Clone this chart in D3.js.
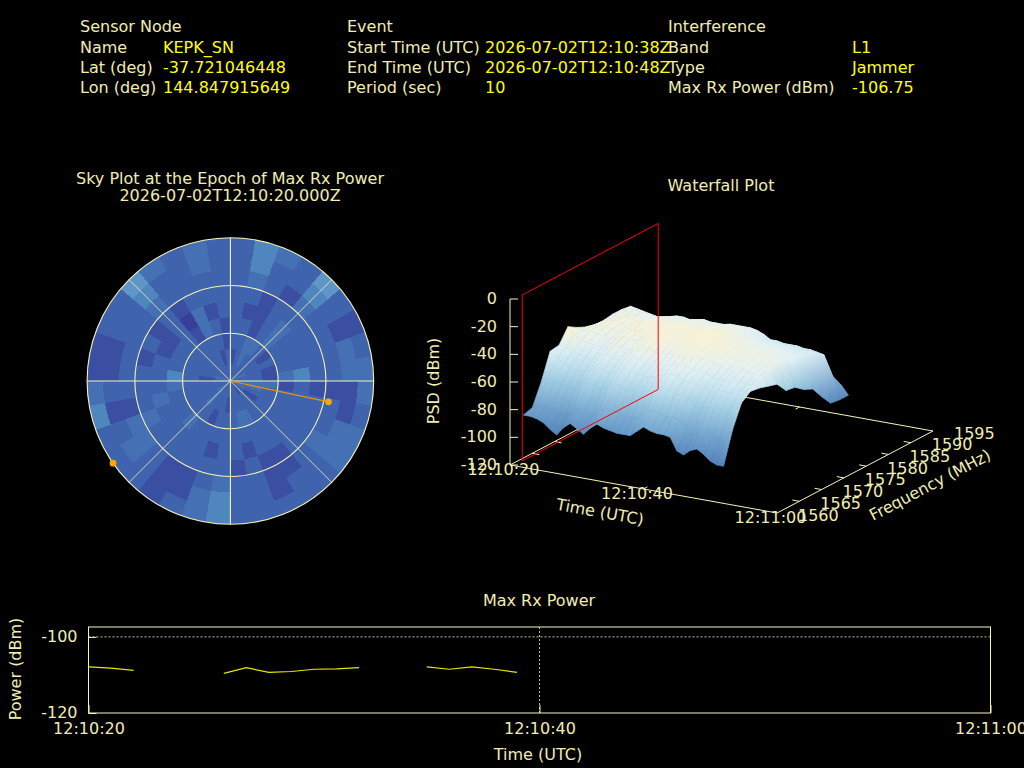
<!DOCTYPE html>
<html>
<head>
<meta charset="utf-8">
<script src="https://d3js.org/d3.v7.min.js"></script>
<style>
  html, body { margin: 0; padding: 0; background: #000; overflow: hidden; }
  text { font-family: "DejaVu Sans", sans-serif; font-size: 16px; fill: #efedb2; }
  text.val { fill: #ffff00; }
</style>
</head>
<body>
<svg id="chart" width="1024" height="768"></svg>
<script>
// header table
const sensorLabels = ['Sensor Node', 'Name', 'Lat (deg)', 'Lon (deg)'];
const sensorValues = ['', 'KEPK_SN', '-37.721046448', '144.847915649'];
const eventLabels = ['Event', 'Start Time (UTC)', 'End Time (UTC)', 'Period (sec)'];
const eventValues = ['', '2026-07-02T12:10:38Z', '2026-07-02T12:10:48Z', '10'];
const interfLabels = ['Interference', 'Band', 'Type', 'Max Rx Power (dBm)'];
const interfValues = ['', 'L1', 'Jammer', '-106.75'];

// sky plot levels, one list per elevation ring (center outwards), 36 azimuth bins of 10 deg
const skyRing0 = [2,2,2,2,2,2,3,2,2,2,2,3,2,2,1,2,2,2,2,2,2,2,3,3,2,2,2,2,3,2,2,2,2,2,2,2];
const skyRing1 = [1,2,3,2,2,2,2,2,2,3,3,2,1,2,2,2,2,2,1,2,2,2,3,2,2,2,2,1,2,2,2,2,2,2,1,2];
const skyRing2 = [2,2,3,3,2,1,2,1,1,3,2,2,2,2,2,3,3,2,2,2,1,2,2,2,2,2,2,2,2,2,2,2,2,2,2,1];
const skyRing3 = [2,2,1,2,3,2,2,2,3,1,2,2,2,2,2,2,2,2,2,2,2,2,3,2,2,2,3,4,2,2,2,2,1,3,2,1];
const skyRing4 = [2,1,1,2,3,2,2,2,4,2,2,2,2,2,2,2,1,2,2,1,2,2,2,2,2,3,2,2,2,1,1,2,0,3,1,2];
const skyRing5 = [2,2,1,2,2,2,2,2,2,1,2,2,2,2,1,1,2,1,2,2,2,2,2,2,3,2,2,2,1,2,1,2,1,2,2,2];
const skyRing6 = [2,3,2,1,3,2,2,2,2,1,2,2,3,2,1,1,2,2,3,2,1,1,2,3,3,1,2,2,2,2,2,3,2,2,2,2];
const skyRing7 = [2,4,2,2,4,2,1,3,3,1,1,3,3,2,2,1,2,2,4,3,1,1,2,3,2,1,2,1,1,2,2,4,2,2,3,2];
const skyRing8 = [2,4,3,2,5,2,1,2,3,3,2,3,3,2,2,2,2,2,4,3,2,1,2,2,2,4,3,1,1,2,2,5,3,2,3,2];
const skyRings = [skyRing0, skyRing1, skyRing2, skyRing3, skyRing4, skyRing5, skyRing6, skyRing7, skyRing8];
const skyLevelColors = ['#383f98', '#3a4ea2', '#3f63ac', '#4570b3', '#4f86be', '#5f96c8'];

// satellites seen at the epoch: azimuth, elevation
const satAz = [102, 235];
const satEl = [27, 0];

// waterfall: PSD in dBm, one list per frequency, one value per second from 12:10:20
const wfFreqs = [1563, 1565, 1567, 1569, 1571, 1573, 1575, 1577, 1579, 1581, 1583, 1585, 1587, 1589, 1591];
const psd1563 = [-89,-89,-90,-92,-96,-99,-93,-89,-92,-95,-90,-86,-88,-89,-90,-90,-90,-86,-82,-84,-85,-85,-86,-95,-97,-93,-91,-94,-98,-100,-100];
const psd1565 = [-87,-84,-85,-86,-88,-90,-85,-81,-83,-86,-81,-77,-79,-80,-82,-81,-80,-76,-73,-75,-76,-76,-77,-84,-87,-83,-82,-84,-87,-85,-77];
const psd1567 = [-72,-68,-69,-70,-72,-73,-69,-66,-68,-70,-66,-63,-65,-66,-67,-66,-65,-62,-60,-61,-63,-63,-64,-69,-70,-68,-67,-68,-70,-68,-61];
const psd1569 = [-53,-57,-60,-62,-63,-64,-61,-58,-60,-61,-58,-56,-57,-58,-59,-58,-57,-55,-54,-55,-56,-56,-57,-60,-61,-60,-59,-60,-61,-59,-56];
const psd1571 = [-52,-53,-55,-56,-57,-58,-55,-53,-54,-55,-53,-51,-52,-53,-53,-53,-52,-51,-50,-51,-52,-52,-53,-55,-56,-55,-54,-55,-56,-55,-57];
const psd1573 = [-42,-47,-50,-51,-52,-53,-51,-49,-50,-51,-49,-47,-48,-49,-49,-49,-48,-47,-46,-47,-48,-48,-49,-51,-52,-51,-50,-51,-52,-51,-59];
const psd1575 = [-46,-47,-47,-48,-49,-50,-48,-46,-47,-48,-46,-44,-45,-46,-46,-46,-45,-44,-44,-45,-46,-46,-47,-48,-49,-48,-48,-49,-50,-50,-61];
const psd1577 = [-49,-47,-46,-46,-47,-48,-46,-45,-45,-46,-45,-43,-44,-45,-45,-44,-44,-43,-43,-44,-45,-45,-46,-47,-48,-47,-47,-48,-49,-50,-69];
const psd1579 = [-51,-48,-46,-45,-46,-47,-45,-44,-44,-45,-44,-43,-44,-44,-44,-44,-43,-43,-43,-44,-45,-46,-47,-48,-48,-48,-48,-49,-50,-52,-70];
const psd1581 = [-51,-49,-47,-46,-46,-47,-46,-45,-45,-46,-45,-44,-45,-45,-45,-45,-44,-44,-45,-46,-47,-48,-49,-50,-50,-50,-50,-51,-52,-53,-75];
const psd1583 = [-50,-49,-48,-48,-48,-49,-48,-47,-47,-48,-47,-46,-47,-47,-47,-47,-46,-46,-47,-48,-49,-50,-51,-52,-52,-52,-53,-53,-54,-54,-78];
const psd1585 = [-50,-49,-49,-50,-50,-51,-50,-49,-49,-50,-49,-48,-49,-49,-49,-49,-48,-48,-49,-50,-52,-53,-54,-55,-55,-55,-56,-56,-56,-56,-87];
const psd1587 = [-51,-52,-53,-54,-55,-56,-54,-52,-52,-53,-52,-51,-52,-52,-52,-51,-51,-51,-51,-52,-54,-57,-57,-58,-58,-58,-59,-59,-60,-61,-95];
const psd1589 = [-57,-60,-63,-66,-68,-70,-68,-66,-66,-68,-67,-66,-67,-67,-68,-67,-66,-66,-67,-68,-70,-72,-73,-74,-75,-75,-76,-77,-78,-80,-96];
const psd1591 = [-85,-86,-87,-88,-89,-90,-89,-88,-88,-89,-88,-88,-89,-89,-90,-89,-88,-88,-89,-90,-90,-91,-91,-92,-92,-92,-92,-93,-93,-90,-96];
const wfRows = [psd1563, psd1565, psd1567, psd1569, psd1571, psd1573, psd1575, psd1577, psd1579, psd1581, psd1583, psd1585, psd1587, psd1589, psd1591];

// waterfall axes
const wfZTicks = [0, -20, -40, -60, -80, -100, -120];
const wfFreqTicks = [1560, 1565, 1570, 1575, 1580, 1585, 1590, 1595];
const wfTimeTicks = [0, 20, 40];
const timeLabels = ['12:10:20', '12:10:40', '12:11:00'];

// red marker plane: time offset and frequency band
const planeTime = 0.5;
const planeFreqs = [1562, 1592.5];

// max rx power, gaps are epochs with no detection
const powerTimes = [[0, 1, 2], [6, 7, 8, 9, 10, 11, 12], [15, 16, 17, 18, 19]];
const powerValues = [
  [-107.9, -108.2, -108.8],
  [-109.6, -108.1, -109.3, -109.1, -108.5, -108.4, -108.1],
  [-107.9, -108.5, -107.9, -108.5, -109.3]
];
const powerYTicks = [-100, -120];

const cream = '#f6f3b8';
const svg = d3.select('#chart');
const defs = svg.append('defs');

function addText(x, y, str, cls, anchor, rot) {
  let t = svg.append('text')
    .attr('dominant-baseline', 'central')
    .attr('text-anchor', anchor || 'start')
    .text(str);
  if (cls) t.attr('class', cls);
  if (rot) t.attr('transform', 'translate(' + x + ',' + y + ') rotate(' + rot + ')');
  else t.attr('x', x).attr('y', y);
  return t;
}

// ---- header
const rowY = d3.scaleOrdinal().domain([0, 1, 2, 3]).range([26, 47, 67, 87]);
function headerCol(labels, values, xLabel, xValue) {
  labels.forEach(function(d, i) { addText(xLabel, rowY(i), d); });
  values.forEach(function(d, i) { if (d) addText(xValue, rowY(i), d, 'val'); });
}
headerCol(interfLabels, interfValues, 668, 852);
headerCol(sensorLabels, sensorValues, 80, 163);
headerCol(eventLabels, eventValues, 347, 485);

// ---- sky plot
addText(230, 178, 'Sky Plot at the Epoch of Max Rx Power', null, 'middle');
addText(230, 195, '2026-07-02T12:10:20.000Z', null, 'middle');

const skyCx = 230.4, skyCy = 381, skyR = 143.3;
const skyG = svg.append('g').attr('transform', 'translate(' + skyCx + ',' + skyCy + ')');
const rScale = d3.scaleLinear().domain([90, 0]).range([0, skyR]);
const azScale = d3.scaleLinear().domain([0, 360]).range([0, 2 * Math.PI]);
const skyArc = d3.arc();

skyRings.forEach(function(ring, i) {
  ring.forEach(function(level, j) {
    skyG.append('path')
      .attr('d', skyArc({
        innerRadius: rScale(90 - i * 10),
        outerRadius: rScale(90 - (i + 1) * 10),
        startAngle: azScale(j * 10),
        endAngle: azScale((j + 1) * 10)
      }))
      .attr('fill', skyLevelColors[level])
      .attr('shape-rendering', 'crispEdges');
  });
});

// spokes then elevation circles
[0, 45, 90, 135].forEach(function(az) {
  let a = azScale(az);
  skyG.append('line')
    .attr('x1', -skyR * Math.sin(a)).attr('y1', skyR * Math.cos(a))
    .attr('x2', skyR * Math.sin(a)).attr('y2', -skyR * Math.cos(a))
    .attr('stroke', cream)
    .attr('stroke-width', az % 90 ? 0.8 : 1.1);
});
[60, 30, 0].forEach(function(el) {
  skyG.append('circle')
    .attr('r', rScale(el))
    .attr('fill', 'none')
    .attr('stroke', cream)
    .attr('stroke-width', 1.1);
});

function satXY(i) {
  let a = azScale(satAz[i]), r = rScale(satEl[i]);
  return [r * Math.sin(a), -r * Math.cos(a)];
}
skyG.append('line')
  .attr('x1', 0).attr('y1', 0)
  .attr('x2', satXY(0)[0]).attr('y2', satXY(0)[1])
  .attr('stroke', '#e8950c').attr('stroke-width', 1.2);
const satSymbol = d3.symbol().type(d3.symbolCircle).size(36);
satAz.forEach(function(az, i) {
  skyG.append('path')
    .attr('d', satSymbol())
    .attr('transform', 'translate(' + satXY(i)[0] + ',' + satXY(i)[1] + ')')
    .attr('fill', '#ffa500');
});

// ---- waterfall plot
addText(721, 185.5, 'Waterfall Plot', null, 'middle');

// the 3d box is an oblique projection: each axis adds a fixed screen vector
const tX = d3.scaleLinear().domain([0, 40]).range([0, 267]);
const tY = d3.scaleLinear().domain([0, 40]).range([0, 48]);
const fX = d3.scaleLinear().domain([1560, 1595]).range([0, 156]);
const fY = d3.scaleLinear().domain([1560, 1595]).range([0, -82]);
const zY = d3.scaleLinear().domain([-120, 0]).range([0, -166]);
const originX = 510, originY = 465;

function project(t, f, z) {
  return [originX + tX(t) + fX(f), originY + tY(t) + fY(f) + zY(z)];
}
function seg(a, b, color, width) {
  svg.append('line')
    .attr('x1', a[0]).attr('y1', a[1])
    .attr('x2', b[0]).attr('y2', b[1])
    .attr('stroke', color)
    .attr('stroke-width', width || 1);
}

// base frame, the surface covers the far part of it
seg(project(0, 1560, -120), project(40, 1560, -120), cream);
seg(project(40, 1560, -120), project(40, 1595, -120), cream);
seg(project(40, 1595, -120), project(0, 1595, -120), cream);
seg(project(0, 1595, -120), project(0, 1560, -120), cream);
seg(project(0, 1560, -120), project(0, 1560, 0), cream);

wfZTicks.forEach(function(z) {
  let p = project(0, 1560, z);
  seg(p, [p[0] + 8, p[1]], cream);
  addText(497, p[1] - 0.5, z, null, 'end');
});
wfFreqTicks.slice(1, -1).forEach(function(f) {
  let a = project(40, f, -120), b = project(0, f, -120);
  seg(a, [a[0] - 7, a[1] - 1.3], cream);
  seg(b, [b[0] + 7, b[1] + 1.3], cream);
});
seg(project(20, 1560, -120), [project(20, 1560, -120)[0] + 4, project(20, 1560, -120)[1] - 2.2], cream);
seg(project(20, 1595, -120), [project(20, 1595, -120)[0] - 4, project(20, 1595, -120)[1] + 2.2], cream);

// surface, far rows first so nearer ones paint over them
const wfColor = d3.scaleLinear()
  .domain([-105, -92, -80, -70, -60, -52, -44])
  .range(['#4a78b4', '#6193c4', '#7fb0d5', '#9ccbe2', '#c5e3f0', '#e2f1f5', '#f6f2da']);

let gradId = 0;
for (let i = wfRows.length - 2; i >= 0; i--) {
  for (let j = 0; j < wfRows[i].length - 1; j++) {
    let corners = [
      { p: project(j, wfFreqs[i], wfRows[i][j]), z: wfRows[i][j] },
      { p: project(j + 1, wfFreqs[i], wfRows[i][j + 1]), z: wfRows[i][j + 1] },
      { p: project(j + 1, wfFreqs[i + 1], wfRows[i + 1][j + 1]), z: wfRows[i + 1][j + 1] },
      { p: project(j, wfFreqs[i + 1], wfRows[i + 1][j]), z: wfRows[i + 1][j] }
    ];
    // shade each facet from its lowest to its highest corner
    let lo = d3.least(corners, function(c) { return c.z; });
    let hi = d3.greatest(corners, function(c) { return c.z; });
    let id = 'wf' + (gradId++);
    let grad = defs.append('linearGradient')
      .attr('id', id)
      .attr('gradientUnits', 'userSpaceOnUse')
      .attr('x1', lo.p[0]).attr('y1', lo.p[1])
      .attr('x2', hi.p[0]).attr('y2', hi.p[1] - 0.01);
    grad.append('stop').attr('offset', 0).attr('stop-color', wfColor(lo.z));
    grad.append('stop').attr('offset', 1).attr('stop-color', wfColor(hi.z));
    svg.append('polygon')
      .attr('points', corners.map(function(c) { return c.p.join(','); }).join(' '))
      .attr('fill', 'url(#' + id + ')')
      .attr('stroke', 'url(#' + id + ')')
      .attr('stroke-width', 0.7);
  }
}

// red marker plane on top
const planeCorners = [
  project(planeTime, planeFreqs[0], -120),
  project(planeTime, planeFreqs[1], -120),
  project(planeTime, planeFreqs[1], 0),
  project(planeTime, planeFreqs[0], 0)
];
svg.append('polygon')
  .attr('points', planeCorners.map(function(p) { return p.join(','); }).join(' '))
  .attr('fill', 'none')
  .attr('stroke', '#ff0000')
  .attr('stroke-width', 1);

// waterfall labels
wfTimeTicks.forEach(function(t, i) {
  let p = project(t, 1560, -120);
  addText(p[0] - 6.5, p[1] + 4.5, timeLabels[i], null, 'middle');
});
wfFreqTicks.forEach(function(f) {
  let p = project(40, f, -120);
  addText(p[0] + 21, p[1] + 2, f);
});
addText(600, 512, 'Time (UTC)', null, 'middle', 10.2);
addText(930, 485, 'Frequency (MHz)', null, 'middle', -27.7);
addText(433, 381, 'PSD (dBm)', null, 'middle', -90);

// ---- max rx power strip
addText(539, 600, 'Max Rx Power', null, 'middle');

const xPower = d3.scaleLinear().domain([0, 40]).range([88.5, 990.5]);
const yPower = d3.scaleLinear().domain([-120, -97.4]).range([713, 627]);
const powerG = svg.append('g');

powerG.append('line')
  .attr('x1', xPower(0)).attr('x2', xPower(40))
  .attr('y1', yPower(-100)).attr('y2', yPower(-100))
  .attr('stroke', cream).attr('stroke-width', 0.8).attr('stroke-dasharray', '2,2');
powerG.append('line')
  .attr('x1', xPower(20)).attr('x2', xPower(20))
  .attr('y1', yPower(-120)).attr('y2', yPower(-97.4))
  .attr('stroke', cream).attr('stroke-width', 0.8).attr('stroke-dasharray', '2,2');

const powerLine = d3.line()
  .x(function(d) { return xPower(d[0]); })
  .y(function(d) { return yPower(d[1]); });
powerTimes.forEach(function(times, i) {
  powerG.append('path')
    .attr('d', powerLine(d3.zip(times, powerValues[i])))
    .attr('fill', 'none')
    .attr('stroke', '#e6e600')
    .attr('stroke-width', 1.2);
});

powerG.append('rect')
  .attr('x', xPower(0)).attr('y', yPower(-97.4))
  .attr('width', xPower(40) - xPower(0))
  .attr('height', yPower(-120) - yPower(-97.4))
  .attr('fill', 'none')
  .attr('stroke', cream)
  .attr('stroke-width', 1);

const xAxisPower = d3.axisBottom(xPower)
  .tickValues(wfTimeTicks)
  .tickFormat(function(d, i) { return timeLabels[i]; })
  .tickSize(-8).tickPadding(10);
const gx = powerG.append('g').attr('transform', 'translate(0,713)').call(xAxisPower);
const yAxisPower = d3.axisLeft(yPower)
  .tickValues(powerYTicks)
  .tickFormat(function(d) { return String(d); })
  .tickSize(-8).tickPadding(11);
const gy = powerG.append('g').attr('transform', 'translate(88.5,-1)').call(yAxisPower);
gx.select('.domain').remove();
gy.select('.domain').remove();
powerG.selectAll('.tick line').attr('stroke', cream);
gy.selectAll('.tick line').attr('transform', 'translate(0,1)');
powerG.selectAll('.tick text').attr('font-size', null).attr('font-family', null);

addText(538, 754, 'Time (UTC)', null, 'middle');
addText(15, 669, 'Power (dBm)', null, 'middle', -90);
</script>
</body>
</html>
